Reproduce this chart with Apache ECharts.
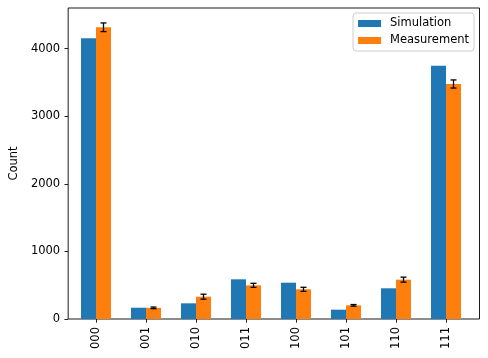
<!DOCTYPE html>
<html>
<head>
<meta charset="utf-8">
<script src="https://cdn.jsdelivr.net/npm/echarts@6/dist/echarts.min.js"></script>
<style>
  html, body { margin: 0; padding: 0; background: #fff; }
  #chart { width: 488px; height: 358px; }
</style>
</head>
<body>
<div id="chart"></div>
<script>
// 数据
const categories = ['000', '001', '010', '011', '100', '101', '110', '111']
const simulation = [4152, 167, 232, 587, 537, 138, 454, 3747]
const measurement = [4315, 165, 330, 498, 439, 202, 582, 3476]
const measurementErr = [64, 12, 37, 30, 30, 12, 37, 60]
const yTicks = [0, 1000, 2000, 3000, 4000]

const FONT = 'DejaVu Sans'
const FS = 11.5
const BAR_W = 15

const chart = echarts.init(document.getElementById('chart'))

const errData = categories.map((c, i) => [i, measurement[i], measurementErr[i]])

const option = {
  animation: false,
  textStyle: { fontFamily: FONT },
  grid: [
    // 外框 + y轴
    { left: 62, right: 8.5, top: 8, bottom: 39, show: true, borderColor: '#000', borderWidth: 0.9, backgroundColor: 'transparent' },
    // 柱子
    { left: 71, right: 17, top: 8, bottom: 39 }
  ],
  legend: {
    orient: 'vertical',
    right: 14,
    top: 13,
    itemWidth: 23,
    itemHeight: 7,
    itemGap: 4,
    padding: [4, 5, 4, 5],
    borderColor: '#ccc',
    borderWidth: 1,
    borderRadius: 3,
    backgroundColor: 'rgba(255,255,255,0.8)',
    textStyle: { fontFamily: FONT, fontSize: FS, lineHeight: 13, color: '#000', padding: [0, 0, 0, 4] },
    data: [
      { name: 'Simulation', icon: 'rect' },
      { name: 'Measurement', icon: 'rect' }
    ]
  },
  xAxis: [
    { gridIndex: 0, type: 'value', min: 0, max: 1, show: false },
    {
      gridIndex: 1,
      type: 'category',
      data: categories,
      axisLine: { show: false },
      axisTick: { show: true, alignWithLabel: true, length: 3.7, lineStyle: { color: '#000', width: 0.85 } },
      axisLabel: { rotate: 90, margin: 8, color: '#000', fontSize: FS, fontFamily: FONT }
    }
  ],
  yAxis: [
    {
      gridIndex: 0,
      type: 'value',
      min: 0,
      max: 4600,
      interval: 1000,
      name: 'Count',
      nameLocation: 'middle',
      nameGap: 42,
      nameTextStyle: { color: '#000', fontSize: FS, fontFamily: FONT },
      axisLine: { show: false },
      axisTick: { show: true, length: 3.7, customValues: yTicks, lineStyle: { color: '#000', width: 0.85 } },
      axisLabel: {
        color: '#000', fontSize: FS, fontFamily: FONT, margin: 8,
        customValues: yTicks,
        formatter: (v) => (yTicks.includes(v) ? String(v) : '')
      },
      splitLine: { show: false }
    },
    { gridIndex: 1, type: 'value', min: 0, max: 4600, show: false }
  ],
  series: [
    {
      name: 'Simulation',
      type: 'bar',
      xAxisIndex: 1,
      yAxisIndex: 1,
      barWidth: BAR_W,
      barGap: '0%',
      data: simulation,
      itemStyle: { color: '#1f77b4' }
    },
    {
      name: 'Measurement',
      type: 'bar',
      xAxisIndex: 1,
      yAxisIndex: 1,
      barWidth: BAR_W,
      barGap: '0%',
      data: measurement,
      itemStyle: { color: '#ff7f0e' }
    },
    {
      // 误差棒
      type: 'custom',
      xAxisIndex: 1,
      yAxisIndex: 1,
      data: errData,
      z: 10,
      renderItem: (params, api) => {
        const idx = api.value(0)
        const v = api.value(1)
        const e = api.value(2)
        const hi = api.coord([idx, v + e])
        const lo = api.coord([idx, v - e])
        const x = hi[0] + BAR_W / 2
        const cap = 3
        const style = { stroke: '#000', lineWidth: 1.3 }
        return {
          type: 'group',
          children: [
            { type: 'line', shape: { x1: x, y1: hi[1], x2: x, y2: lo[1] }, style },
            { type: 'line', shape: { x1: x - cap, y1: hi[1], x2: x + cap, y2: hi[1] }, style },
            { type: 'line', shape: { x1: x - cap, y1: lo[1], x2: x + cap, y2: lo[1] }, style }
          ]
        }
      }
    }
  ]
}

chart.setOption(option)
</script>
</body>
</html>
